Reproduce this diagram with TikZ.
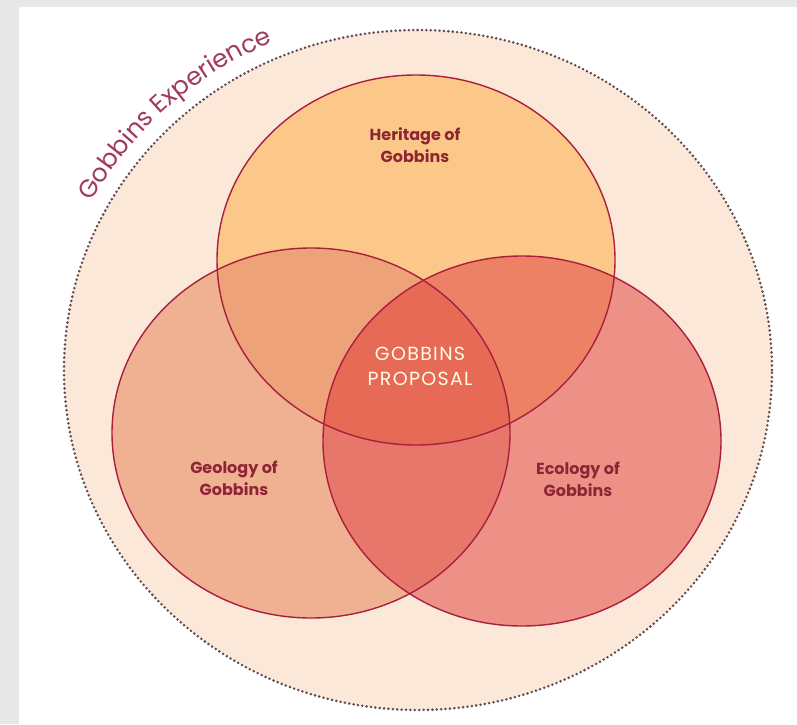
\documentclass[tikz,border=0pt]{standalone}
\usepackage{fontspec}
\setmainfont{Poppins}
\usetikzlibrary{decorations.text}

\definecolor{panelgray}{HTML}{E8E8E8}
\definecolor{ringfill}{HTML}{FCE8D8}
\definecolor{herfill}{HTML}{FCC88A}
\definecolor{geofill}{HTML}{F0B193}
\definecolor{ecofill}{HTML}{ED9186}
\definecolor{hgfill}{HTML}{EEA27A}
\definecolor{hefill}{HTML}{EC8165}
\definecolor{gefill}{HTML}{E8776B}
\definecolor{allfill}{HTML}{E66A55}
\definecolor{rimred}{HTML}{A9203E}
\definecolor{labelred}{HTML}{8E2535}
\definecolor{ringtext}{HTML}{A03A62}
\definecolor{dotgray}{HTML}{5E4A50}

\begin{document}
\begin{tikzpicture}[x=1pt,y=1pt,
  setsize/.style={x radius=199,y radius=185},
  rim/.style={draw=rimred,line width=1.4pt},
  setlabel/.style={text=labelred,font=\bfseries\fontsize{16}{22}\selectfont,align=center}]
\useasboundingbox (0,0) rectangle (797,724);
\fill[panelgray] (0,0) rectangle (797,724);
\fill[white] (19,0) rectangle (797,717);

\coordinate (exp) at (418,354);
\coordinate (her) at (416,464);
\coordinate (geo) at (311,291);
\coordinate (eco) at (522,283);

% outer ring
\fill[ringfill] (exp) ellipse (354 and 340);
\draw[dotgray,line width=2.8pt,line cap=round,dash pattern=on 0pt off 4.4pt] (exp) ellipse (354 and 340);
\path[decorate,decoration={text along path,text align=center,
  text={|\color{ringtext}\fontsize{25}{30}\selectfont|Gobbins Experience}}]
  (exp) ++(155:370 and 356) arc[start angle=155,end angle=110,x radius=370,y radius=356];

% the three sets
\fill[herfill] (her) ellipse[setsize];
\fill[geofill] (geo) ellipse[setsize];
\fill[ecofill] (eco) ellipse[setsize];
\begin{scope}
  \clip (her) ellipse[setsize];
  \fill[hgfill] (geo) ellipse[setsize];
  \fill[hefill] (eco) ellipse[setsize];
\end{scope}
\begin{scope}
  \clip (geo) ellipse[setsize];
  \fill[gefill] (eco) ellipse[setsize];
  \clip (her) ellipse[setsize];
  \fill[allfill] (eco) ellipse[setsize];
\end{scope}
\draw[rim] (her) ellipse[setsize];
\draw[rim] (geo) ellipse[setsize];
\draw[rim] (eco) ellipse[setsize];

% labels
\node[setlabel] (herlabel) at (415,579) {Heritage of\\Gobbins};
\node[setlabel] (geolabel) at (234,246) {Geology of\\Gobbins};
\node[setlabel] (ecolabel) at (578,245) {Ecology of\\Gobbins};
\node[text=white!90!yellow,align=center,font=\addfontfeatures{LetterSpace=7}\fontsize{19}{25}\selectfont]
  (proposal) at (420,358) {GOBBINS\\PROPOSAL};
\end{tikzpicture}
\end{document}
